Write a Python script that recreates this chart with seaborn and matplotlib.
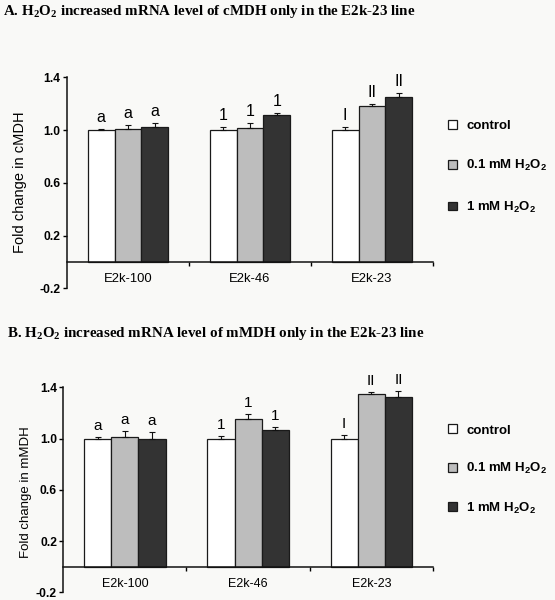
# Fold change of cMDH / mMDH mRNA after H2O2 treatment, two panels.

import numpy as np
import pandas as pd
import matplotlib.pyplot as plt
import seaborn as sns

# 1. Data.

groups = ["E2k-100", "E2k-46", "E2k-23"]
treatments = ["control", r"0.1 mM H$_\mathregular{2}$O$_\mathregular{2}$",
              r"1 mM H$_\mathregular{2}$O$_\mathregular{2}$"]
colors = ["#ffffff", "#bdbdbd", "#333333"]

cmdh_control = [1.00, 1.00, 1.00]
cmdh_low = [1.005, 1.015, 1.18]
cmdh_high = [1.025, 1.115, 1.25]
cmdh_control_err = [0.005, 0.02, 0.02]
cmdh_low_err = [0.035, 0.035, 0.018]
cmdh_high_err = [0.025, 0.015, 0.03]

mmdh_control = [1.00, 1.00, 1.00]
mmdh_low = [1.015, 1.15, 1.345]
mmdh_high = [1.00, 1.065, 1.325]
mmdh_control_err = [0.015, 0.02, 0.025]
mmdh_low_err = [0.045, 0.04, 0.015]
mmdh_high_err = [0.05, 0.025, 0.045]

control_sig = ["a", "1", "I"]
low_sig = ["a", "1", "II"]
high_sig = ["a", "1", "II"]

yticks = [-0.2, 0.2, 0.6, 1.0, 1.4]

SANS = ["Liberation Sans", "DejaVu Sans"]
SERIF = ["Liberation Serif", "DejaVu Serif"]
BG = "#f9f9f7"


def draw_panel(ax, means, errs, ylabel, fs, xfs, sigfs, label_x, label_y):
    df = pd.DataFrame({"line": groups * 3,
                       "treatment": np.repeat(treatments, 3),
                       "fold": means[0] + means[1] + means[2]})
    sns.barplot(data=df, x="line", y="fold", hue="treatment", order=groups,
                hue_order=treatments, palette=colors, saturation=1,
                width=0.66, errorbar=None, edgecolor="#1a1a1a",
                linewidth=0.9, ax=ax)
    sigs = [control_sig, low_sig, high_sig]
    for cont, err, sig in zip(ax.containers, errs, sigs):
        xs = [b.get_x() + b.get_width() / 2 for b in cont]
        hs = [b.get_height() for b in cont]
        ax.errorbar(xs, hs, yerr=[np.zeros(3), err], fmt="none",
                    ecolor="#111111", elinewidth=0.8, capsize=2,
                    capthick=0.8)
        for x, h, e, s in zip(xs, hs, err, sig):
            ax.annotate(s, (x, h + e), xytext=(0, 5),
                        textcoords="offset points", ha="center",
                        va="baseline", fontsize=sigfs, family=SANS,
                        annotation_clip=False)
    ax.get_legend().remove()

    ax.set_facecolor(BG)
    ax.set_xlim(-0.5, 2.5)
    ax.set_ylim(-0.2, 1.4)
    for s in ["top", "right"]:
        ax.spines[s].set_visible(False)
    ax.spines["bottom"].set_position(("data", 0))
    ax.spines["bottom"].set_bounds(-0.5, 2.5)
    for s in ["left", "bottom"]:
        ax.spines[s].set_linewidth(1.1)
        ax.spines[s].set_color("#111111")

    ax.set_yticks(yticks)
    ax.set_yticklabels([f"{t:.1f}" for t in yticks], fontsize=8.7,
                       fontweight="bold", family=SANS)
    ax.tick_params(axis="y", direction="out", length=3, width=1,
                   pad=1.5)
    ax.set_xticks([0, 1, 2])
    ax.set_xticklabels(groups, fontsize=xfs, family=SANS)
    ax.set_xticks([0.5, 1.5, 2.5], minor=True)
    ax.tick_params(axis="x", which="major", length=0, pad=8)
    ax.tick_params(axis="x", which="minor", direction="out", length=3,
                   width=1)
    ax.set_xlabel("")
    ax.set_ylabel(ylabel, fontsize=fs, family=SANS)
    ax.yaxis.set_label_coords(label_x, label_y)


fig = plt.figure(figsize=(5.55, 6.0), dpi=100, facecolor=BG)
ax1 = fig.add_axes([0.1207, 0.5195, 0.6595, 0.3517])
ax2 = fig.add_axes([0.1140, 0.0128, 0.6660, 0.3417])

draw_panel(ax1, [cmdh_control, cmdh_low, cmdh_high],
           [cmdh_control_err, cmdh_low_err, cmdh_high_err],
           "Fold change in cMDH", 10.5, 9.4, 11.5, -0.109, 0.504)
draw_panel(ax2, [mmdh_control, mmdh_low, mmdh_high],
           [mmdh_control_err, mmdh_low_err, mmdh_high_err],
           "Fold change in mMDH", 9.5, 9.0, 11.0, -0.085, 0.49)

# legends to the right of each panel
for ax, yc, sp in [(ax1, 1 - 167.3 / 600, 2.0), (ax2, 1 - 470 / 600, 1.85)]:
    h, l = ax.get_legend_handles_labels()
    fig.legend(h[:3], l[:3], loc="center left",
               bbox_to_anchor=(448 / 555, yc), frameon=False,
               borderpad=0, borderaxespad=0, handlelength=0.65,
               handleheight=0.65, handletextpad=0.75, labelspacing=sp,
               prop={"family": SANS, "weight": "bold", "size": 9.5})

fig.text(3 / 555, 1 - 12 / 600,
         r"A. H$_\mathregular{2}$O$_\mathregular{2}$ increased mRNA level of cMDH only in the E2k-23 line",
         family=SERIF, fontweight="bold", fontsize=10.8, va="center")
fig.text(7 / 555, 1 - 333 / 600,
         r"B. H$_\mathregular{2}$O$_\mathregular{2}$ increased mRNA level of mMDH only in the E2k-23 line",
         family=SERIF, fontweight="bold", fontsize=10.8, va="center")

fig.savefig("out.png", dpi=100, facecolor=BG)
